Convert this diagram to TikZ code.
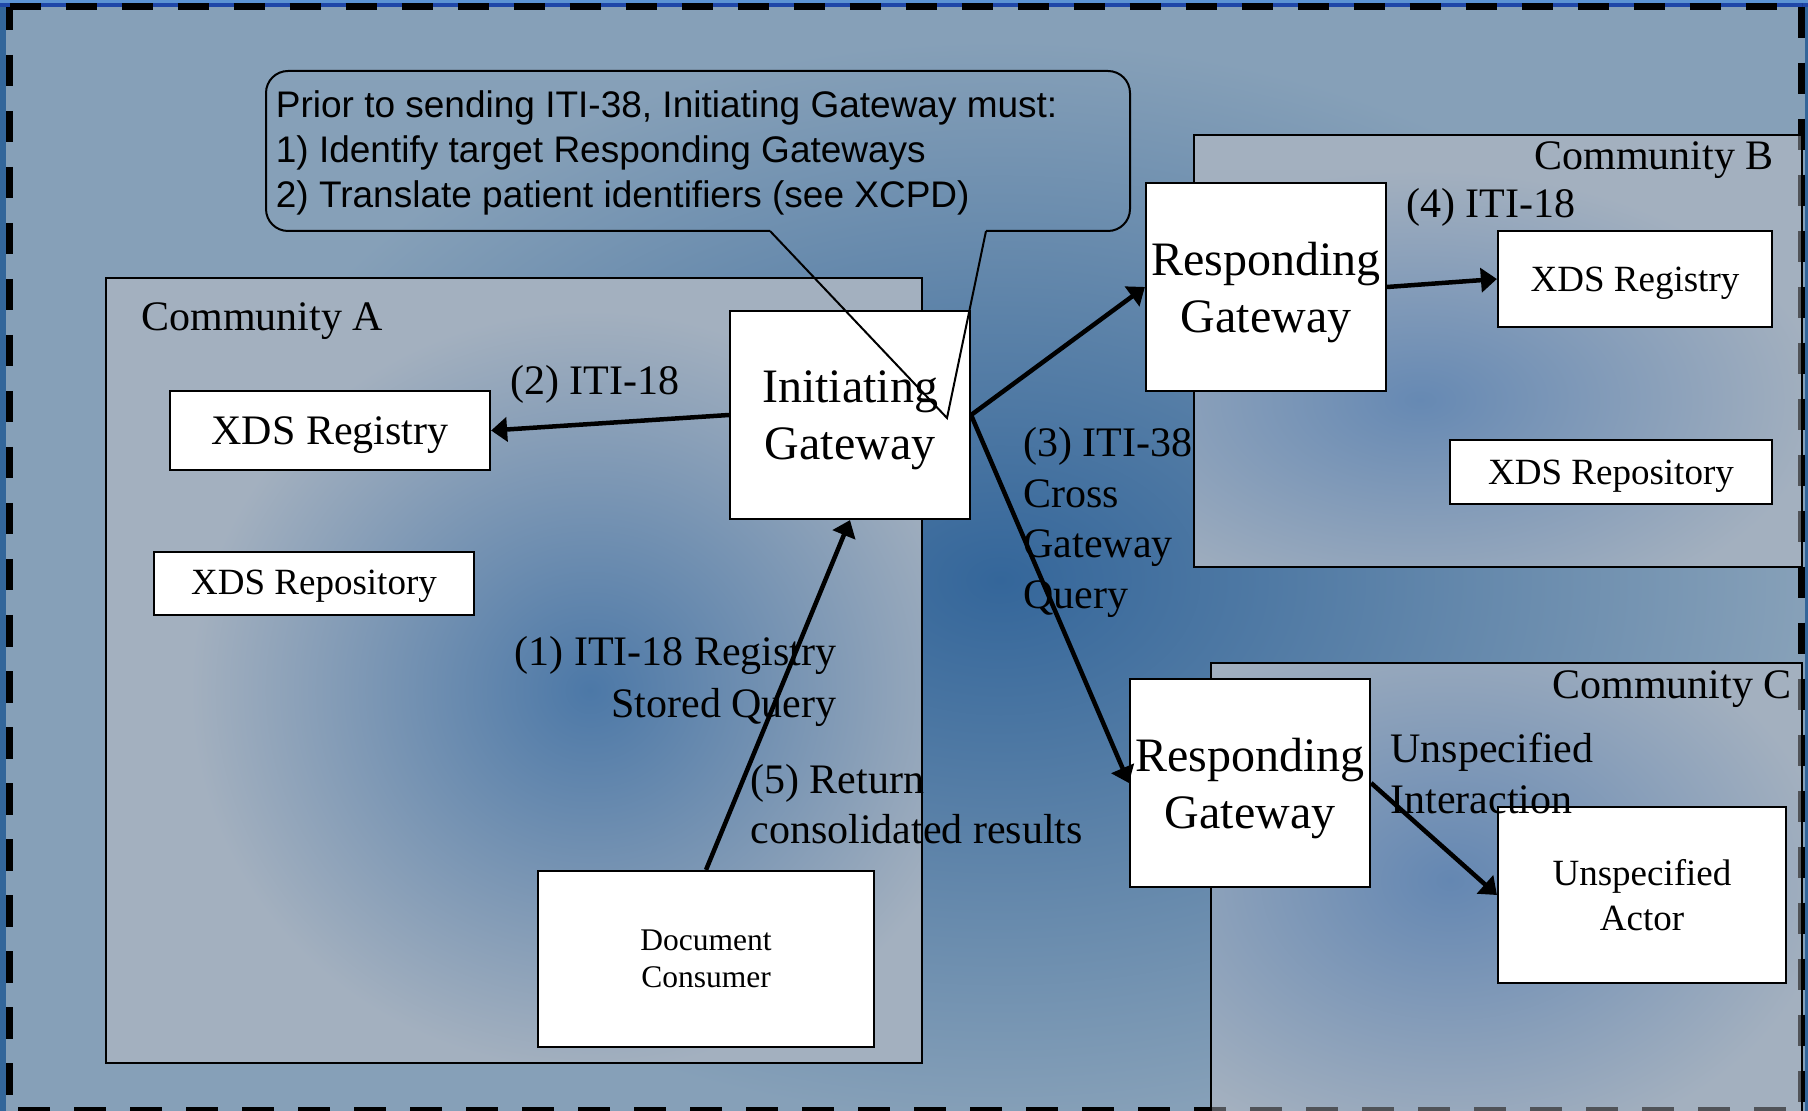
\documentclass[tikz,border=0pt]{standalone}
\usepackage{fontspec}
\setmainfont{Liberation Serif}
\newfontfamily\calloutfont{Liberation Sans}
\usetikzlibrary{arrows.meta}
\definecolor{bglight}{HTML}{86A0B8}
\definecolor{bgdark}{HTML}{34669A}
\definecolor{commfill}{HTML}{A3B0BF}
\definecolor{blobA}{HTML}{4C78A7}
\definecolor{blobB}{HTML}{6689B3}
\definecolor{blobC}{HTML}{6487B2}
\definecolor{edgeblue}{HTML}{33669A}
\definecolor{topblue}{HTML}{5C93D3}
\definecolor{royal}{HTML}{1F47A8}
\definecolor{dimdash}{HTML}{505358}
\begin{document}
\begin{tikzpicture}[x=0.5pt,y=-0.5pt,
  actorbox/.style={draw, line width=1.1pt, fill=white, inner sep=0pt, align=center},
  lbl/.style={inner sep=0pt, font=\fontsize{21pt}{25.5pt}\selectfont},
  conn/.style={line width=2.25pt, -{Triangle[length=8pt,width=12pt]}},
  commbox/.style={draw, line width=1pt},
  bord/.style={line width=3.5pt, dash pattern=on 15.75pt off 12.25pt},
  f24/.style={font=\fontsize{24pt}{28.5pt}\selectfont},
  f21/.style={font=\fontsize{21pt}{25.5pt}\selectfont},
  f185/.style={font=\fontsize{18.5pt}{22.5pt}\selectfont}]
\useasboundingbox (0,0) rectangle (1808,1111);
\clip (0,0) rectangle (1808,1111);
% background
\fill[bglight] (0,0) rectangle (1808,1111);
\shade[inner color=bgdark, outer color=bglight] (1000,580) ellipse (800 and 540);
\fill[edgeblue] (0,0) rectangle (6,1111);
\fill[edgeblue] (1805,0) rectangle (1808,1111);
\fill[topblue] (0,0) rectangle (1808,3.5);
\fill[royal] (0,3.5) rectangle (1808,6.7);
% outer dashed border
\draw[bord] (9.5,6.7) -- (1801.5,6.7);
\draw[bord, dash phase=3.85pt] (9.5,6.7) -- (9.5,1110);
\draw[bord] (1801.5,6.7) -- (1801.5,1110);
\draw[bord, dash phase=23.75pt] (9.5,1110) -- (1801.5,1110);
% Community A
\begin{scope}
  \clip (106,278) rectangle (922,1063);
  \fill[commfill] (106,278) rectangle (922,1063);
  \shade[inner color=blobA, outer color=commfill] (590,690) ellipse (400 and 380);
\end{scope}
% Community B
\begin{scope}
  \clip (1194,135) rectangle (1802,567);
  \fill[commfill] (1194,135) rectangle (1802,567);
  \shade[inner color=blobB, outer color=commfill] (1420,400) ellipse (400 and 230);
\end{scope}
% Community C
\begin{scope}
  \clip (1211,663) rectangle (1802,1125);
  \fill[commfill] (1211,663) rectangle (1802,1125);
  \shade[inner color=blobC, outer color=commfill] (1450,880) ellipse (380 and 280);
\end{scope}
% dimmed border seen through B and C
\begin{scope}
  \clip (1194,135) rectangle (1802,567) (1211,663) rectangle (1802,1125);
  \draw[bord, draw=dimdash] (1801.5,6.7) -- (1801.5,1110);
  \draw[bord, draw=dimdash, dash phase=23.75pt] (9.5,1110) -- (1801.5,1110);
\end{scope}
\draw[commbox] (106,278) rectangle (922,1063);
\draw[commbox] (1194,135) rectangle (1802,567);
\draw[commbox] (1211,1125) -- (1211,663) -- (1802,663) -- (1802,1125);
% actor boxes
\node[actorbox, f24, text depth=-3.8pt, minimum width=120pt, minimum height=104pt] (ig) at (850,415) {Initiating\\Gateway};
\node[actorbox, f21, text depth=-4pt, minimum width=160pt, minimum height=39.5pt] (rega) at (330,430.5) {XDS Registry};
\node[actorbox, f185, text depth=1pt, minimum width=160pt, minimum height=31.75pt] (repa) at (314,583.5) {XDS Repository};
\node[actorbox, font=\fontsize{15.75pt}{18.5pt}\selectfont, text depth=-3.5pt, minimum width=168pt, minimum height=88pt] (dc) at (706,959) {Document\\Consumer};
\node[actorbox, f24, text depth=-3.8pt, minimum width=120pt, minimum height=104pt] (rgb) at (1266,287) {Responding\\Gateway};
\node[actorbox, f185, text depth=-0.4pt, minimum width=137pt, minimum height=48pt] (regb) at (1635,279) {XDS Registry};
\node[actorbox, f185, text depth=-1.4pt, minimum width=161pt, minimum height=31.75pt] (repb) at (1611,472) {XDS Repository};
\node[actorbox, f24, text depth=-3.8pt, minimum width=120pt, minimum height=104pt] (rgc) at (1250,783) {Responding\\Gateway};
\node[actorbox, f185, minimum width=144pt, minimum height=88pt] (ua) at (1642,895) {Unspecified\\Actor};
% connectors
\draw[conn] (ig.west) -- (rega.east);
\draw[conn] (ig.east) -- (rgb.west);
\draw[conn] (ig.east) -- (rgc.west);
\draw[conn] (rgb.east) -- (regb.west);
\draw[conn] (rgc.east) -- (ua.west);
\draw[conn] (dc.north) -- (ig.south);
% labels (base anchor = baseline of the last line)
\node[lbl, anchor=base west] (ca) at (141,331) {Community A};
\node[lbl, anchor=base east] (cb) at (1774,170) {Community B};
\node[lbl, anchor=base east] (cc) at (1792,698) {Community C};
\node[lbl, anchor=base west] (l2) at (510,395) {(2) ITI-18};
\node[lbl, anchor=base west] (l4) at (1406,218) {(4) ITI-18};
\node[lbl, anchor=base west, align=left, font=\fontsize{21pt}{25.25pt}\selectfont] (l3) at (1023,608.5) {(3) ITI-38\\Cross\\Gateway\\Query};
\node[lbl, anchor=base east, align=right, font=\fontsize{21pt}{26pt}\selectfont] (l1) at (837,717) {(1) ITI-18 Registry\\Stored Query};
\node[lbl, anchor=base west, align=left, font=\fontsize{21pt}{25pt}\selectfont] (l5) at (750,843) {(5) Return\\consolidated results};
\node[lbl, anchor=base west, align=left, font=\fontsize{21pt}{25.5pt}\selectfont] (lu) at (1390,813) {Unspecified\\Interaction};
% callout
\draw[line width=1pt, rounded corners=11pt] (770,231) -- (266,231) -- (266,71) -- (1130,71) -- (1130,231) -- (986,231);
\draw[line width=1pt] (986,231) -- (947,418) -- (770,231);
\node[anchor=base west, align=left, inner sep=0pt, font=\calloutfont\fontsize{18.5pt}{22.5pt}\selectfont] (note) at (275.5,208) {Prior to sending ITI-38, Initiating Gateway must:\\1) Identify target Responding Gateways\\2) Translate patient identifiers (see XCPD)};
\end{tikzpicture}
\end{document}
